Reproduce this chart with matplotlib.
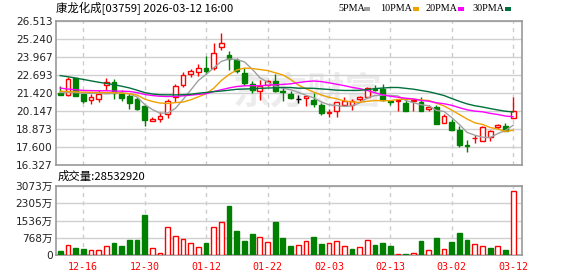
import matplotlib
matplotlib.use('Agg')
import matplotlib.pyplot as plt
from matplotlib.patches import Rectangle
import numpy as np

plt.rcParams['font.family'] = ['DejaVu Sans', 'Noto Sans CJK SC']

# 交易日
dates = ['12-11', '12-12', '12-15', '12-16', '12-17', '12-18', '12-19', '12-22', '12-23', '12-24',
         '12-29', '12-30', '12-31', '01-02', '01-05', '01-06', '01-07', '01-08', '01-09', '01-12',
         '01-13', '01-14', '01-15', '01-16', '01-19', '01-20', '01-21', '01-22', '01-23', '01-26',
         '01-27', '01-28', '01-29', '01-30', '02-02', '02-03', '02-04', '02-05', '02-06', '02-09',
         '02-10', '02-11', '02-12', '02-13', '02-16', '02-20', '02-23', '02-24', '02-25', '02-26',
         '02-27', '03-02', '03-03', '03-04', '03-05', '03-06', '03-09', '03-10', '03-11', '03-12']

opens = [21.40, 21.30, 22.46, 21.35, 20.95, 21.02, 21.96, 22.20, 21.37, 21.21,
         20.99, 20.48, 19.42, 19.60, 19.93, 21.16, 21.96, 22.76, 22.93, 23.19,
         23.17, 24.65, 24.11, 23.75, 22.83, 22.06, 21.54, 22.01, 22.29, 21.54,
         21.35, 21.02, 21.07, 20.95, 20.55, 20.03, 20.12, 20.59, 20.59, 21.00,
         21.12, 21.73, 21.73, 20.88, 20.83, 20.71, 20.83, 20.78, 20.31, 20.43,
         19.28, 19.37, 18.80, 17.72, 18.22, 18.05, 18.33, 19.04, 19.06, 19.65]
highs = [21.91, 22.53, 22.50, 21.42, 21.35, 21.66, 22.48, 22.39, 21.63, 21.33,
         21.11, 20.59, 19.72, 20.05, 20.99, 22.06, 22.88, 23.14, 23.47, 24.04,
         24.96, 25.66, 24.41, 23.90, 23.19, 22.30, 22.36, 22.36, 22.76, 21.87,
         21.54, 21.30, 21.30, 21.42, 20.71, 20.31, 20.78, 21.14, 20.99, 21.23,
         21.87, 22.01, 22.06, 20.90, 20.92, 21.07, 20.95, 21.12, 20.55, 20.59,
         19.93, 19.60, 19.11, 18.12, 18.48, 19.09, 18.80, 19.25, 19.30, 21.12]
lows = [21.28, 21.18, 21.20, 20.71, 20.67, 20.76, 21.63, 21.02, 20.85, 20.31,
        20.24, 19.11, 19.42, 19.37, 19.65, 20.76, 21.84, 22.53, 22.65, 22.79,
        23.07, 24.44, 23.07, 22.83, 22.01, 21.42, 20.95, 21.89, 21.47, 20.83,
        21.02, 20.74, 20.52, 20.43, 19.89, 19.70, 19.70, 20.59, 20.24, 20.88,
        21.07, 21.54, 20.88, 20.55, 20.12, 20.12, 20.12, 20.12, 20.17, 19.25,
        19.28, 18.78, 17.60, 17.25, 17.88, 18.05, 18.05, 18.89, 18.71, 19.65]
closes = [21.30, 22.41, 21.23, 20.88, 21.14, 21.37, 22.20, 21.40, 21.07, 20.74,
          20.31, 19.53, 19.58, 19.79, 20.83, 21.91, 22.67, 22.95, 23.17, 22.95,
          24.25, 24.96, 23.83, 22.95, 22.13, 21.66, 21.94, 22.25, 21.54, 21.47,
          21.07, 21.02, 21.19, 20.64, 20.03, 20.06, 20.78, 20.83, 20.83, 21.12,
          21.78, 21.63, 20.95, 20.78, 20.90, 20.17, 20.92, 20.17, 20.43, 19.25,
          19.77, 18.78, 17.72, 17.65, 18.26, 19.02, 18.71, 19.13, 18.71, 20.12]

ma5 = [21.45, 21.45, 21.45, 21.42, 21.39, 21.41, 21.36, 21.40, 21.44, 21.36,
       21.14, 20.61, 20.25, 19.99, 20.01, 20.33, 20.96, 21.63, 22.31, 22.73,
       23.20, 23.66, 23.83, 23.79, 23.62, 23.11, 22.50, 22.19, 21.90, 21.77,
       21.65, 21.47, 21.26, 21.08, 20.79, 20.59, 20.54, 20.47, 20.51, 20.72,
       21.07, 21.24, 21.26, 21.25, 21.21, 20.89, 20.74, 20.59, 20.52, 20.19,
       20.11, 19.68, 19.19, 18.63, 18.44, 18.29, 18.27, 18.55, 18.77, 19.14]
ma10 = [21.55, 21.52, 21.50, 21.48, 21.47, 21.46, 21.45, 21.44, 21.41, 21.37,
        21.28, 20.99, 20.82, 20.71, 20.68, 20.74, 20.78, 20.94, 21.15, 21.37,
        21.76, 22.31, 22.73, 23.05, 23.18, 23.15, 23.08, 23.01, 22.85, 22.70,
        22.38, 21.99, 21.72, 21.49, 21.28, 21.12, 21.01, 20.86, 20.79, 20.76,
        20.83, 20.89, 20.87, 20.88, 20.97, 20.98, 20.99, 20.93, 20.89, 20.70,
        20.50, 20.21, 19.89, 19.58, 19.31, 19.20, 18.98, 18.87, 18.70, 18.79]
ma20 = [21.77, 21.70, 21.65, 21.60, 21.59, 21.58, 21.58, 21.56, 21.55, 21.53,
        21.45, 21.32, 21.24, 21.19, 21.17, 21.18, 21.22, 21.27, 21.32, 21.37,
        21.52, 21.65, 21.78, 21.88, 21.93, 21.94, 21.93, 21.97, 22.00, 22.03,
        22.07, 22.15, 22.23, 22.27, 22.23, 22.14, 22.04, 21.94, 21.82, 21.73,
        21.60, 21.44, 21.29, 21.19, 21.12, 21.05, 21.00, 20.89, 20.84, 20.73,
        20.66, 20.55, 20.38, 20.23, 20.14, 20.09, 19.98, 19.90, 19.79, 19.74]
ma30 = [22.65, 22.57, 22.48, 22.38, 22.28, 22.18, 22.10, 22.01, 21.90, 21.78,
        21.62, 21.45, 21.35, 21.30, 21.29, 21.29, 21.30, 21.33, 21.40, 21.46,
        21.52, 21.56, 21.62, 21.68, 21.70, 21.72, 21.75, 21.77, 21.79, 21.81,
        21.81, 21.76, 21.76, 21.75, 21.71, 21.67, 21.62, 21.60, 21.60, 21.61,
        21.66, 21.73, 21.77, 21.81, 21.81, 21.75, 21.69, 21.60, 21.51, 21.38,
        21.24, 21.03, 20.83, 20.65, 20.52, 20.43, 20.32, 20.22, 20.13, 20.08]

# 成交量 (万)
vols = [178, 431, 312, 267, 223, 223, 386, 535, 401, 668,
        668, 1782, 297, 104, 1233, 846, 698, 520, 356, 535,
        1233, 1455, 2183, 1069, 624, 936, 787, 579, 1470, 757,
        401, 431, 624, 802, 490, 520, 624, 386, 267, 341,
        668, 446, 535, 401, 45, 45, 89, 624, 223, 757,
        252, 579, 995, 668, 490, 386, 312, 386, 223, 2853]
vol_up = [0, 1, 0, 0, 1, 1, 1, 0, 0, 0,
          0, 0, 1, 1, 1, 1, 1, 1, 1, 0,
          1, 1, 0, 0, 0, 0, 1, 1, 0, 0,
          0, 1, 1, 0, 0, 1, 1, 1, 0, 1,
          1, 0, 0, 0, 1, 0, 1, 0, 1, 0,
          1, 0, 0, 0, 1, 1, 0, 1, 0, 1]

price_ticks = [16.327, 17.600, 18.873, 20.147, 21.420, 22.693, 23.967, 25.240, 26.513]
vol_ticks = [0, 768, 1536, 2305, 3073]
vol_labels = ['0', '768万', '1536万', '2305万', '3073万']

RED = '#ff0000'
GREEN = '#008000'
GRID = '#d0d0d0'
FRAME = '#999999'

W, H = 578, 276
fig = plt.figure(figsize=(W / 100, H / 100), dpi=100)
ax = fig.add_axes([56 / W, 1 - 165 / H, 466 / W, 144 / H])
axv = fig.add_axes([56 / W, 1 - 255 / H, 466 / W, 69 / H])

x = np.arange(len(dates))
o = np.array(opens)
c = np.array(closes)
up = c > o
flat = c == o
col = np.where(up, RED, GREEN)
col = np.where(flat, 'black', col)
face = np.where(up, 'white', GREEN)
face = np.where(flat, 'black', face)

bw = 0.62
tick_idx = x[3::8]

# K线
ax.text(0.54, 0.5, '东方财富', transform=ax.transAxes, ha='center', va='center',
        fontsize=27, fontweight='bold', color='#ececec', zorder=0,
        family=['Noto Sans CJK SC'])
ax.vlines(x, lows, highs, colors=col, lw=1, zorder=2)
ax.bar(x, np.abs(c - o), bottom=np.minimum(o, c), width=bw, color=face,
       edgecolor=col, lw=1, zorder=3)
ax.plot(x, ma5, color='#a0a0a0', lw=1, zorder=4)
ax.plot(x, ma10, color='#f0a000', lw=1, zorder=4)
ax.plot(x, ma20, color='#ff00ff', lw=1, zorder=4)
ax.plot(x, ma30, color='#00703c', lw=1, zorder=4)

ax.set_xlim(-0.55, 60.15)
ax.set_ylim(price_ticks[0], price_ticks[-1])
ax.set_yticks(price_ticks)
ax.set_yticklabels(['%.3f' % t for t in price_ticks])
ax.set_xticks(tick_idx)
ax.set_xticklabels([])
ax.grid(axis='y', color=GRID, lw=1, zorder=1)
ax.grid(axis='x', color='#cccccc', lw=1, ls=(0, (3, 3)), zorder=1)
ax.tick_params(axis='both', length=0, pad=2.5, labelsize=7.6, labelcolor='#222222')

# 成交量
vu = np.array(vol_up) == 1
vcol = np.where(vu, RED, GREEN)
vface = np.where(vu, 'white', GREEN)
axv.bar(x, vols, width=bw, color=vface, edgecolor=vcol, lw=1, zorder=3)
axv.set_xlim(-0.55, 60.15)
axv.set_ylim(0, vol_ticks[-1])
axv.set_yticks(vol_ticks)
axv.set_yticklabels(vol_labels)
axv.set_xticks(tick_idx)
axv.set_xticklabels([dates[i] for i in tick_idx], family='DejaVu Sans Mono',
                    color=RED, fontsize=7.2)
axv.grid(axis='y', color=GRID, lw=1, zorder=1)
axv.grid(axis='x', color='#cccccc', lw=1, ls=(0, (3, 3)), zorder=1)
axv.tick_params(axis='y', length=0, pad=2.5, labelsize=7.6, labelcolor='#222222')
axv.tick_params(axis='x', length=0, pad=5)

for a in (ax, axv):
    for s in a.spines.values():
        s.set_color(FRAME)
        s.set_linewidth(1.2)

# 标题与图例
fig.text(56 / W, 1 - 8.5 / H, '康龙化成[03759] 2026-03-12 16:00', ha='left', va='center',
         fontsize=8.2, family=['Noto Sans CJK SC'])
fig.text(58 / W, 1 - 176.7 / H, '成交量:28532920', ha='left', va='center',
         fontsize=8.2, family=['Noto Sans CJK SC'])

legend_names = ['5PMA', '10PMA', '20PMA', '30PMA']
legend_colors = ['#a0a0a0', '#f0a000', '#ff00ff', '#00703c']
legend_x = [338, 380, 425, 472]
for name, lc, lx in zip(legend_names, legend_colors, legend_x):
    t = fig.text(lx / W, 1 - 8.5 / H, name, ha='left', va='center', fontsize=7.3,
                 family='Liberation Serif')
    sx = lx + 26 if name == '5PMA' else lx + 33
    fig.add_artist(Rectangle((sx / W, 1 - 10.5 / H), 6 / W, 4 / H, transform=fig.transFigure,
                             facecolor=lc, edgecolor='none'))

fig.savefig('out.png', dpi=100)
